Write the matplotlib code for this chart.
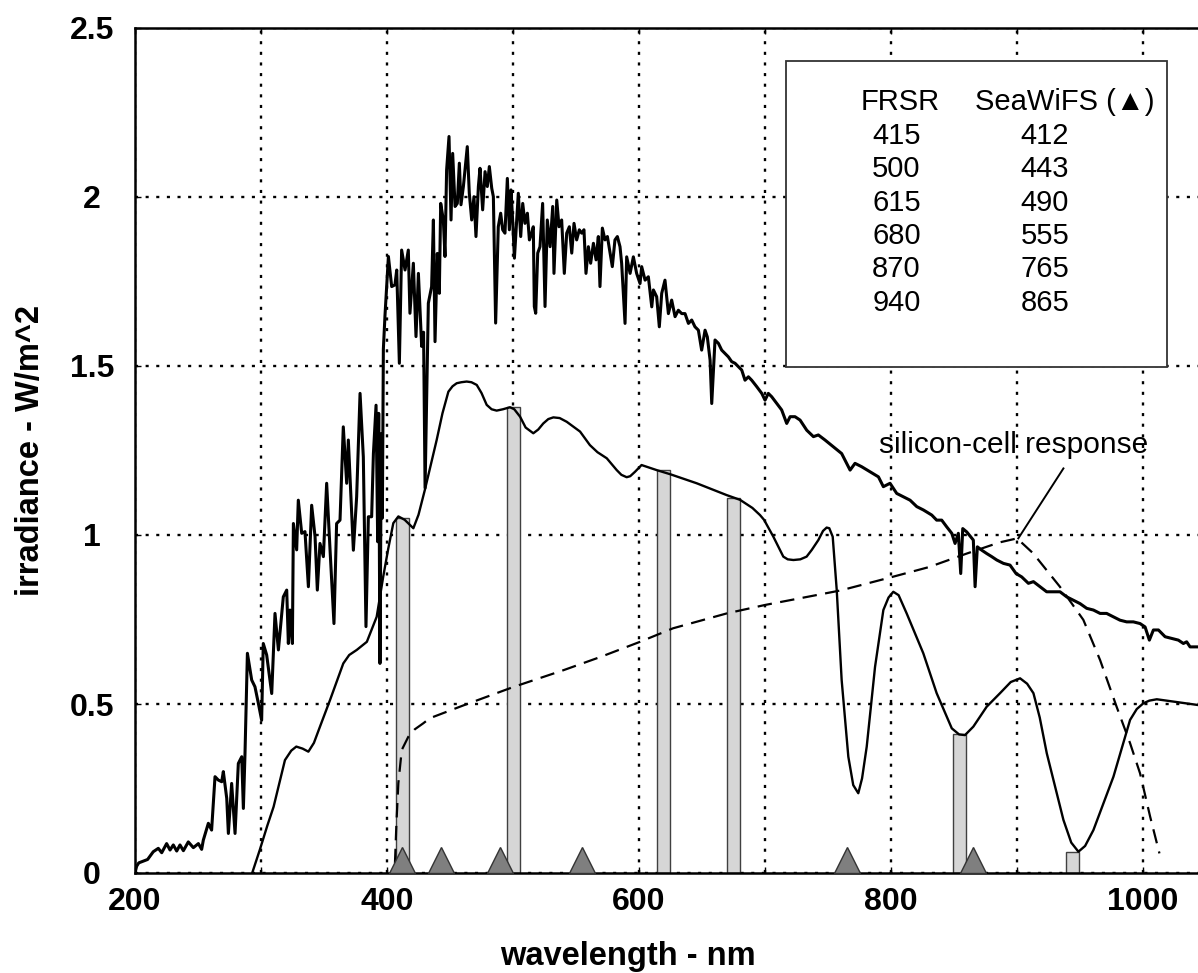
import numpy as np
import matplotlib.pyplot as plt
from matplotlib.patches import Rectangle

plt.rcParams['font.family'] = ['Liberation Sans', 'DejaVu Sans']

#%% Data

# extra-terrestrial solar spectrum (jagged line)
solar_nm = [200.0, 201.3, 203.0, 206.6, 210.0, 214.5, 218.5, 221.2, 225.1, 227.8,
            230.4, 233.1, 235.7, 238.4, 242.3, 246.3, 250.3, 252.9, 254.2, 258.2,
            260.8, 263.5, 266.1, 268.8, 270.1, 272.8, 274.1, 276.7, 279.4, 282.0,
            284.7, 286.0, 287.3, 289.2, 292.6, 295.2, 297.9, 300.5, 301.8, 304.5,
            308.5, 311.1, 313.8, 317.7, 320.4, 321.7, 323.0, 324.9, 325.7, 328.3,
            329.6, 332.3, 334.9, 337.6, 340.2, 342.9, 344.7, 346.8, 349.5, 352.1,
            354.8, 357.9, 360.0, 362.7, 365.3, 368.0, 369.3, 373.3, 375.9, 378.6,
            381.2, 383.3, 385.2, 387.8, 389.2, 391.3, 392.6, 393.4, 394.4, 395.5,
            396.3, 397.1, 398.4, 399.7, 401.1, 403.7, 406.3, 407.7, 409.8, 411.6,
            414.3, 416.9, 418.2, 420.9, 423.0, 424.9, 427.5, 429.0, 430.2, 432.8,
            435.4, 436.8, 438.1, 439.9, 441.5, 442.6, 444.7, 446.0, 447.3, 449.2,
            450.8, 452.1, 454.0, 455.8, 457.4, 458.7, 460.6, 462.7, 463.7, 465.3,
            467.2, 469.0, 470.6, 472.5, 473.8, 475.9, 477.8, 479.6, 481.2, 483.1,
            484.4, 486.2, 488.3, 490.2, 491.8, 493.6, 495.5, 497.1, 498.4, 499.7,
            501.1, 502.9, 504.2, 506.1, 507.7, 509.5, 511.4, 513.0, 514.8, 516.1,
            516.9, 518.0, 519.6, 521.4, 523.5, 525.4, 527.2, 529.4, 531.5, 532.5,
            534.7, 536.5, 538.6, 540.7, 542.6, 544.7, 546.6, 548.4, 550.5, 552.6,
            554.5, 556.3, 557.9, 559.8, 561.6, 563.8, 565.9, 567.7, 569.0, 570.9,
            573.0, 574.9, 577.0, 578.8, 580.9, 582.8, 584.9, 586.2, 588.9, 590.2,
            592.9, 595.5, 598.1, 600.8, 602.1, 604.8, 607.4, 610.1, 611.4, 614.0,
            616.1, 618.0, 620.6, 623.3, 625.9, 628.6, 631.2, 633.9, 636.5, 639.2,
            641.8, 644.4, 647.1, 649.7, 652.4, 654.2, 656.4, 657.7, 660.3, 663.0,
            665.6, 668.3, 670.9, 673.5, 676.2, 678.8, 681.5, 684.1, 686.8, 689.4,
            693.4, 697.4, 700.0, 702.6, 705.3, 709.3, 713.2, 717.2, 719.9, 723.8,
            727.8, 733.1, 738.4, 742.3, 747.6, 754.2, 760.8, 767.5, 771.4, 776.7,
            783.3, 790.0, 793.9, 799.2, 804.5, 809.8, 815.1, 820.4, 825.7, 832.3,
            836.2, 840.2, 844.2, 848.2, 850.8, 853.4, 855.3, 856.9, 860.1, 863.2,
            865.3, 866.7, 868.5, 872.0, 876.0, 879.9, 883.9, 889.2, 894.4, 899.2,
            903.7, 909.0, 913.0, 918.3, 923.5, 928.8, 934.1, 939.4, 944.7, 950.0,
            955.3, 960.6, 965.9, 971.1, 976.4, 981.7, 987.0, 992.3, 997.6, 1001.6,
            1005.0, 1008.2, 1012.2, 1017.5, 1022.7, 1028.0, 1032.0, 1034.6, 1037.3, 1043.6]
solar_irr = [0.000, 0.020, 0.030, 0.035, 0.040, 0.063, 0.073, 0.060, 0.087, 0.068,
             0.083, 0.065, 0.083, 0.066, 0.092, 0.075, 0.087, 0.070, 0.097, 0.147,
             0.127, 0.285, 0.275, 0.270, 0.300, 0.221, 0.117, 0.265, 0.117, 0.324,
             0.344, 0.191, 0.354, 0.650, 0.571, 0.551, 0.502, 0.452, 0.679, 0.645,
             0.531, 0.768, 0.660, 0.817, 0.837, 0.679, 0.778, 0.679, 1.034, 0.956,
             1.103, 1.005, 1.010, 0.847, 1.088, 0.995, 0.837, 0.975, 0.936, 1.153,
             0.955, 0.738, 1.034, 1.044, 1.320, 1.153, 1.281, 0.955, 1.113, 1.419,
             1.231, 0.729, 1.054, 1.054, 1.241, 1.384, 0.980, 1.360, 0.620, 1.300,
             1.050, 1.550, 1.650, 1.735, 1.824, 1.735, 1.740, 1.784, 1.508, 1.843,
             1.784, 1.843, 1.656, 1.804, 1.587, 1.774, 1.558, 1.600, 1.139, 1.686,
             1.735, 1.932, 1.572, 1.833, 1.715, 1.981, 1.932, 1.824, 2.080, 2.179,
             1.932, 2.129, 1.972, 1.981, 2.100, 1.977, 2.031, 2.110, 2.149, 2.011,
             1.932, 2.001, 1.883, 2.031, 2.085, 1.962, 2.075, 2.031, 2.090, 2.026,
             2.001, 1.627, 1.912, 1.952, 1.903, 1.893, 2.055, 1.903, 2.021, 1.932,
             1.819, 1.932, 2.011, 1.883, 1.981, 1.922, 1.952, 1.873, 1.893, 1.912,
             1.676, 1.656, 1.834, 1.853, 1.981, 1.676, 1.932, 1.853, 1.972, 1.774,
             1.991, 1.912, 1.932, 1.774, 1.893, 1.912, 1.834, 1.922, 1.873, 1.903,
             1.893, 1.903, 1.774, 1.853, 1.804, 1.863, 1.814, 1.883, 1.735, 1.908,
             1.873, 1.883, 1.834, 1.794, 1.873, 1.883, 1.853, 1.804, 1.626, 1.823,
             1.774, 1.823, 1.774, 1.744, 1.794, 1.754, 1.764, 1.675, 1.725, 1.705,
             1.616, 1.715, 1.754, 1.655, 1.695, 1.646, 1.665, 1.655, 1.655, 1.626,
             1.636, 1.616, 1.606, 1.547, 1.606, 1.586, 1.517, 1.389, 1.577, 1.567,
             1.547, 1.537, 1.527, 1.513, 1.508, 1.498, 1.488, 1.458, 1.468, 1.458,
             1.439, 1.419, 1.399, 1.419, 1.409, 1.389, 1.370, 1.330, 1.350, 1.350,
             1.340, 1.310, 1.291, 1.296, 1.281, 1.261, 1.241, 1.192, 1.212, 1.202,
             1.187, 1.172, 1.143, 1.153, 1.123, 1.113, 1.103, 1.084, 1.074, 1.059,
             1.044, 1.044, 1.024, 1.005, 0.975, 1.005, 0.886, 1.019, 1.009, 0.995,
             0.985, 0.847, 0.965, 0.955, 0.945, 0.936, 0.926, 0.916, 0.911, 0.886,
             0.876, 0.857, 0.862, 0.847, 0.832, 0.832, 0.832, 0.817, 0.807, 0.797,
             0.783, 0.778, 0.768, 0.768, 0.758, 0.748, 0.743, 0.743, 0.738, 0.728,
             0.689, 0.719, 0.719, 0.699, 0.694, 0.689, 0.679, 0.684, 0.669, 0.669]

# smooth (surface) curve
surf_nm = [293, 299, 305, 310, 319, 324, 328, 333, 337.6, 342, 346.8, 354.8, 365.3,
           370, 376, 384, 391.8, 397, 401, 405, 409, 414, 420.9, 425, 430, 439.4,
           444, 448.7, 452, 455.3, 459, 463.2, 467, 471.2, 475, 479.1, 483, 487, 492,
           497.6, 501, 505.6, 510, 516.1, 520, 524, 528, 532, 537, 542.6, 553.2, 561,
           567, 574.4, 582.3, 586, 590.2, 593, 596.8, 602, 614, 624.6, 645.8, 669.6,
           680.2, 690, 696, 699.2, 706.6, 714.5, 718, 722.5, 728, 733, 737.1, 742.3,
           746, 748.9, 751, 753.7, 756.9, 760.8, 766.1, 770, 774, 777, 780.7, 787.3,
           793.9, 798, 801.8, 806, 812.4, 825.6, 836.2, 848.2, 854, 858.7, 865.3,
           875.9, 886.5, 895, 902.4, 908, 913, 918, 923.6, 936.8, 943, 948.7, 954,
           960.6, 976.5, 989.7, 995, 1000.2, 1005, 1010.9, 1043.6]
surf_irr = [0.0, 0.068, 0.14, 0.196, 0.334, 0.362, 0.374, 0.368, 0.359, 0.385,
            0.433, 0.512, 0.620, 0.645, 0.660, 0.684, 0.758, 0.877, 0.96, 1.035,
            1.055, 1.045, 1.02, 1.06, 1.133, 1.281, 1.36, 1.424, 1.440, 1.449, 1.452,
            1.454, 1.452, 1.444, 1.42, 1.385, 1.372, 1.368, 1.372, 1.378, 1.372,
            1.350, 1.318, 1.301, 1.312, 1.330, 1.343, 1.348, 1.346, 1.335, 1.306,
            1.266, 1.245, 1.227, 1.192, 1.178, 1.171, 1.174, 1.187, 1.207, 1.192,
            1.180, 1.153, 1.118, 1.104, 1.080, 1.059, 1.045, 0.995, 0.936, 0.928,
            0.926, 0.928, 0.936, 0.956, 0.985, 1.012, 1.022, 1.02, 0.995, 0.837,
            0.571, 0.344, 0.26, 0.236, 0.28, 0.374, 0.610, 0.778, 0.815, 0.832,
            0.822, 0.768, 0.650, 0.532, 0.428, 0.410, 0.408, 0.433, 0.492, 0.532,
            0.565, 0.576, 0.56, 0.532, 0.46, 0.354, 0.157, 0.09, 0.063, 0.08, 0.127,
            0.285, 0.453, 0.485, 0.502, 0.510, 0.514, 0.497]

# silicon-cell response (dashed)
si_nm = [406.3, 407.5, 409, 411.7, 416.9, 422, 428.8, 434, 460, 500, 540, 570, 600.8,
         613.9, 627, 669.6, 700, 728, 760, 800, 830, 860, 886, 900, 912.7, 934, 952.6,
         965.9, 979, 989.7, 997.6, 1005.6, 1013]
si_resp = [0.029, 0.15, 0.266, 0.364, 0.403, 0.425, 0.443, 0.458, 0.495, 0.55, 0.60,
           0.64, 0.684, 0.704, 0.724, 0.768, 0.793, 0.813, 0.836, 0.875, 0.905, 0.945,
           0.978, 0.99, 0.946, 0.847, 0.749, 0.630, 0.492, 0.384, 0.295, 0.167, 0.058]

# FRSR filter bands (grey bars) and SeaWiFS bands (triangles)
frsr_labels = ['415', '500', '615', '680', '870', '940']
bar_left = [407, 495, 614, 670, 849, 939]
bar_width = 10.5
bar_top = [1.05, 1.378, 1.192, 1.108, 0.41, 0.063]
seawifs_nm = [412, 443, 490, 555, 765, 865]
seawifs_labels = ['412', '443', '490', '555', '765', '865']

leader_x = [936.8, 901]
leader_y = [1.197, 0.99]

x_major = [200, 400, 600, 800, 1000]
x_minor = [300, 500, 700, 900]
y_ticks = [0, 0.5, 1, 1.5, 2, 2.5]
y_ticklabels = ['0', '0.5', '1', '1.5', '2', '2.5']

#%% Plot

fig = plt.figure(figsize=(11.98, 9.73), dpi=100)
ax = fig.add_axes([135/1198, 100/973, 1063/1198, 845/973])
ax.set_xlim(200, 1043.6)
ax.set_ylim(0, 2.5)

ax.set_xticks(x_major)
ax.set_xticks(x_minor, minor=True)
ax.set_yticks(y_ticks)
ax.set_yticklabels(y_ticklabels)

dots = (0, (1.3, 3.2))
ax.grid(True, which='both', color='black', linestyle=dots, linewidth=1.7)
ax.set_axisbelow(True)

ax.tick_params(which='both', direction='in', length=4, width=1, top=True, right=False)
ax.tick_params(axis='x', pad=10, labelsize=23)
ax.tick_params(axis='y', pad=31, labelsize=23)
for lab in ax.get_xticklabels() + ax.get_yticklabels():
    lab.set_fontweight('bold')
for lab in ax.get_yticklabels():
    lab.set_horizontalalignment('center')

for s in ['left', 'bottom', 'top']:
    ax.spines[s].set_linewidth(1.8)
ax.spines['right'].set_visible(False)

ax.bar(bar_left, bar_top, width=bar_width, align='edge', color='#d6d6d6',
       edgecolor='#404040', linewidth=1.0, zorder=2)

ax.plot(solar_nm, solar_irr, color='black', lw=2.2, zorder=3)
ax.plot(surf_nm, surf_irr, color='black', lw=1.7, zorder=3)
ax.plot(si_nm, si_resp, color='black', lw=1.6, dashes=(6.5, 3.8), zorder=3)
ax.plot(leader_x, leader_y, color='black', lw=1.4, zorder=3)

ax.plot(seawifs_nm, [0.038] * len(seawifs_nm), linestyle='none', marker='^',
        markersize=18.5, markerfacecolor='#7f7f7f', markeredgecolor='#333333',
        markeredgewidth=1.0, zorder=4, clip_on=False)

# band table
ax.add_patch(Rectangle((717, 1.497), 302, 0.905, facecolor='white',
                       edgecolor='#333333', linewidth=1.3, zorder=5))
ax.text(776.2, 2.28, 'FRSR', fontsize=21, va='center', ha='left', zorder=6)
ax.text(867, 2.28, 'SeaWiFS (\u25B2)', fontsize=21, va='center', ha='left', zorder=6)
for i in range(len(frsr_labels)):
    yy = 2.18 - i * 0.0985
    ax.text(785, yy, frsr_labels[i], fontsize=21, va='center', ha='left', zorder=6)
    ax.text(903, yy, seawifs_labels[i], fontsize=21, va='center', ha='left', zorder=6)

ax.text(790.7, 1.266, 'silicon-cell response', fontsize=21.5, va='center', ha='left',
        zorder=6)

fig.text(628/1198, 1 - 965/973, 'wavelength - nm', fontsize=23.5, fontweight='bold',
         ha='center', va='baseline')
fig.text(31/1198, 1 - 450/973, 'irradiance - W/m^2', fontsize=23.5, fontweight='bold',
         ha='center', va='center', rotation=90)

fig.savefig('out.png', dpi=100)
